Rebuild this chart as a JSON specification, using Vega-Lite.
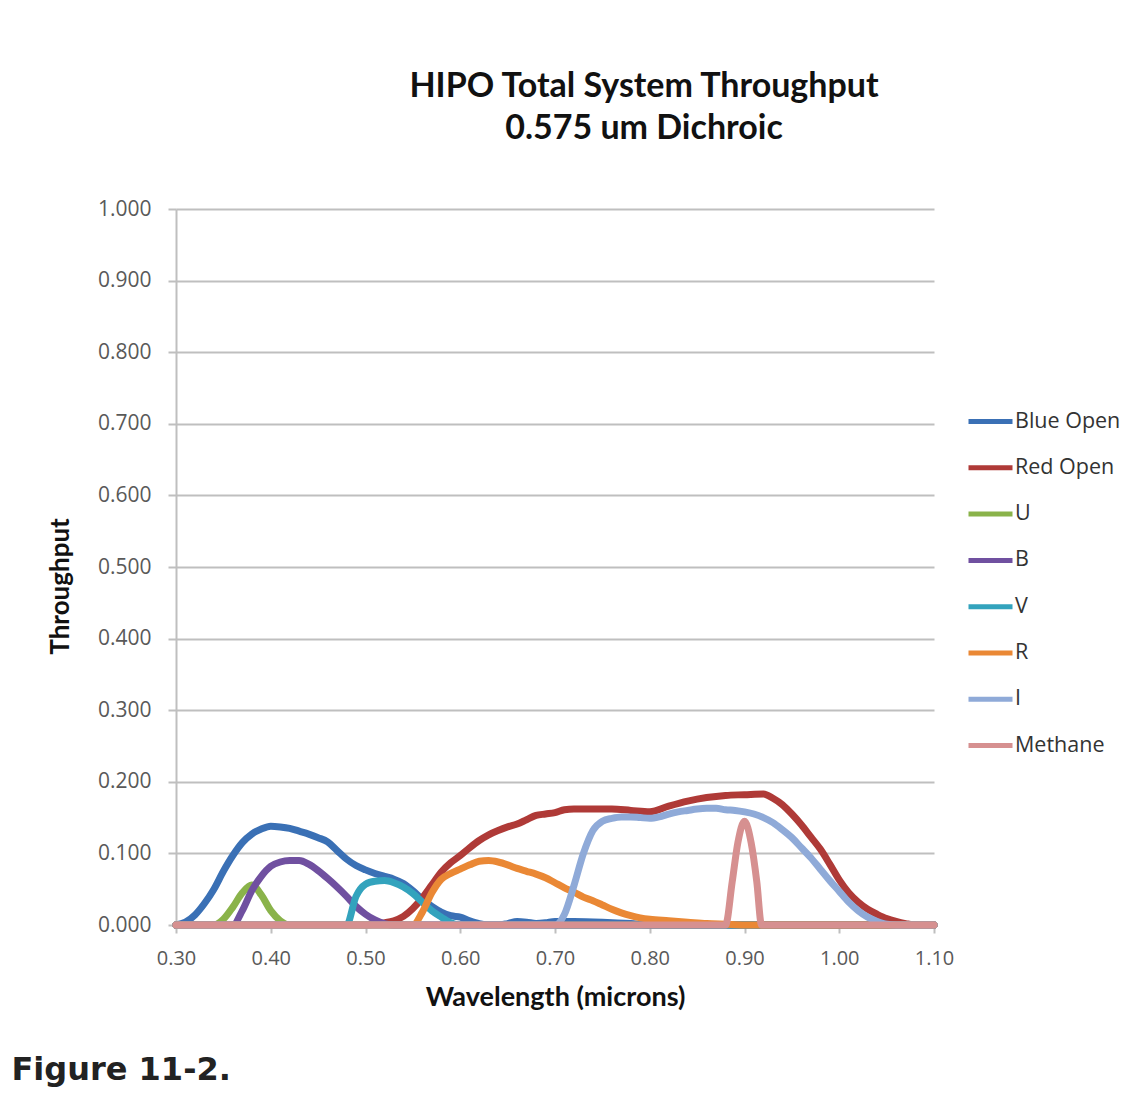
{
  "$schema": "https://vega.github.io/schema/vega-lite/v6.json",
  "padding": {"left": 11, "top": 70, "right": 5, "bottom": 5},
  "background": "white",
  "config": {"view": {"stroke": null}, "font": "Open Sans"},
  "title": {"text": "Figure 11-2.", "orient": "bottom", "anchor": "start", "font": "DejaVu Sans", "fontWeight": "bold", "fontSize": 32, "color": "#222222", "dx": -36, "offset": 45},
  "vconcat": [
    {
      "width": 758,
      "height": 716,
      "title": {"text": ["HIPO Total System Throughput", "0.575 um Dichroic"], "font": "Lato", "fontWeight": "bold", "fontSize": 34, "lineHeight": 42, "color": "#111111", "anchor": "middle", "frame": "group", "dx": 89, "offset": 52},
      "data": {"values": [
        {"series": "Blue Open", "wl": 0.30, "t": 0.000},
        {"series": "Blue Open", "wl": 0.31, "t": 0.004},
        {"series": "Blue Open", "wl": 0.32, "t": 0.014},
        {"series": "Blue Open", "wl": 0.33, "t": 0.030},
        {"series": "Blue Open", "wl": 0.34, "t": 0.050},
        {"series": "Blue Open", "wl": 0.35, "t": 0.075},
        {"series": "Blue Open", "wl": 0.36, "t": 0.097},
        {"series": "Blue Open", "wl": 0.37, "t": 0.115},
        {"series": "Blue Open", "wl": 0.38, "t": 0.127},
        {"series": "Blue Open", "wl": 0.39, "t": 0.134},
        {"series": "Blue Open", "wl": 0.40, "t": 0.138},
        {"series": "Blue Open", "wl": 0.41, "t": 0.137},
        {"series": "Blue Open", "wl": 0.42, "t": 0.135},
        {"series": "Blue Open", "wl": 0.43, "t": 0.131},
        {"series": "Blue Open", "wl": 0.44, "t": 0.127},
        {"series": "Blue Open", "wl": 0.45, "t": 0.122},
        {"series": "Blue Open", "wl": 0.46, "t": 0.116},
        {"series": "Blue Open", "wl": 0.47, "t": 0.104},
        {"series": "Blue Open", "wl": 0.48, "t": 0.092},
        {"series": "Blue Open", "wl": 0.49, "t": 0.083},
        {"series": "Blue Open", "wl": 0.50, "t": 0.077},
        {"series": "Blue Open", "wl": 0.51, "t": 0.072},
        {"series": "Blue Open", "wl": 0.52, "t": 0.068},
        {"series": "Blue Open", "wl": 0.53, "t": 0.064},
        {"series": "Blue Open", "wl": 0.54, "t": 0.058},
        {"series": "Blue Open", "wl": 0.55, "t": 0.048},
        {"series": "Blue Open", "wl": 0.56, "t": 0.036},
        {"series": "Blue Open", "wl": 0.57, "t": 0.026},
        {"series": "Blue Open", "wl": 0.58, "t": 0.018},
        {"series": "Blue Open", "wl": 0.59, "t": 0.013},
        {"series": "Blue Open", "wl": 0.60, "t": 0.011},
        {"series": "Blue Open", "wl": 0.61, "t": 0.006},
        {"series": "Blue Open", "wl": 0.62, "t": 0.002},
        {"series": "Blue Open", "wl": 0.63, "t": 0.000},
        {"series": "Blue Open", "wl": 0.64, "t": 0.000},
        {"series": "Blue Open", "wl": 0.65, "t": 0.002},
        {"series": "Blue Open", "wl": 0.66, "t": 0.005},
        {"series": "Blue Open", "wl": 0.67, "t": 0.004},
        {"series": "Blue Open", "wl": 0.68, "t": 0.002},
        {"series": "Blue Open", "wl": 0.69, "t": 0.003},
        {"series": "Blue Open", "wl": 0.70, "t": 0.005},
        {"series": "Blue Open", "wl": 0.72, "t": 0.005},
        {"series": "Blue Open", "wl": 0.75, "t": 0.004},
        {"series": "Blue Open", "wl": 0.78, "t": 0.002},
        {"series": "Blue Open", "wl": 0.80, "t": 0.000},
        {"series": "Blue Open", "wl": 1.10, "t": 0.000},
        {"series": "Red Open", "wl": 0.30, "t": 0.000},
        {"series": "Red Open", "wl": 0.50, "t": 0.000},
        {"series": "Red Open", "wl": 0.51, "t": 0.001},
        {"series": "Red Open", "wl": 0.52, "t": 0.003},
        {"series": "Red Open", "wl": 0.53, "t": 0.006},
        {"series": "Red Open", "wl": 0.54, "t": 0.012},
        {"series": "Red Open", "wl": 0.55, "t": 0.023},
        {"series": "Red Open", "wl": 0.56, "t": 0.038},
        {"series": "Red Open", "wl": 0.57, "t": 0.056},
        {"series": "Red Open", "wl": 0.58, "t": 0.074},
        {"series": "Red Open", "wl": 0.59, "t": 0.087},
        {"series": "Red Open", "wl": 0.60, "t": 0.097},
        {"series": "Red Open", "wl": 0.61, "t": 0.108},
        {"series": "Red Open", "wl": 0.62, "t": 0.118},
        {"series": "Red Open", "wl": 0.63, "t": 0.126},
        {"series": "Red Open", "wl": 0.64, "t": 0.132},
        {"series": "Red Open", "wl": 0.65, "t": 0.137},
        {"series": "Red Open", "wl": 0.66, "t": 0.141},
        {"series": "Red Open", "wl": 0.67, "t": 0.147},
        {"series": "Red Open", "wl": 0.68, "t": 0.153},
        {"series": "Red Open", "wl": 0.69, "t": 0.155},
        {"series": "Red Open", "wl": 0.70, "t": 0.157},
        {"series": "Red Open", "wl": 0.71, "t": 0.161},
        {"series": "Red Open", "wl": 0.72, "t": 0.162},
        {"series": "Red Open", "wl": 0.74, "t": 0.162},
        {"series": "Red Open", "wl": 0.76, "t": 0.162},
        {"series": "Red Open", "wl": 0.78, "t": 0.160},
        {"series": "Red Open", "wl": 0.80, "t": 0.158},
        {"series": "Red Open", "wl": 0.82, "t": 0.166},
        {"series": "Red Open", "wl": 0.84, "t": 0.173},
        {"series": "Red Open", "wl": 0.86, "t": 0.178},
        {"series": "Red Open", "wl": 0.88, "t": 0.181},
        {"series": "Red Open", "wl": 0.90, "t": 0.182},
        {"series": "Red Open", "wl": 0.92, "t": 0.183},
        {"series": "Red Open", "wl": 0.93, "t": 0.177},
        {"series": "Red Open", "wl": 0.94, "t": 0.168},
        {"series": "Red Open", "wl": 0.95, "t": 0.155},
        {"series": "Red Open", "wl": 0.96, "t": 0.140},
        {"series": "Red Open", "wl": 0.97, "t": 0.123},
        {"series": "Red Open", "wl": 0.98, "t": 0.106},
        {"series": "Red Open", "wl": 0.99, "t": 0.085},
        {"series": "Red Open", "wl": 1.00, "t": 0.063},
        {"series": "Red Open", "wl": 1.01, "t": 0.045},
        {"series": "Red Open", "wl": 1.02, "t": 0.032},
        {"series": "Red Open", "wl": 1.03, "t": 0.022},
        {"series": "Red Open", "wl": 1.04, "t": 0.015},
        {"series": "Red Open", "wl": 1.05, "t": 0.009},
        {"series": "Red Open", "wl": 1.06, "t": 0.005},
        {"series": "Red Open", "wl": 1.07, "t": 0.002},
        {"series": "Red Open", "wl": 1.08, "t": 0.000},
        {"series": "Red Open", "wl": 1.10, "t": 0.000},
        {"series": "U", "wl": 0.30, "t": 0.000},
        {"series": "U", "wl": 0.34, "t": 0.000},
        {"series": "U", "wl": 0.35, "t": 0.008},
        {"series": "U", "wl": 0.36, "t": 0.025},
        {"series": "U", "wl": 0.37, "t": 0.045},
        {"series": "U", "wl": 0.38, "t": 0.056},
        {"series": "U", "wl": 0.39, "t": 0.042},
        {"series": "U", "wl": 0.40, "t": 0.020},
        {"series": "U", "wl": 0.41, "t": 0.006},
        {"series": "U", "wl": 0.42, "t": 0.000},
        {"series": "U", "wl": 1.10, "t": 0.000},
        {"series": "B", "wl": 0.30, "t": 0.000},
        {"series": "B", "wl": 0.36, "t": 0.000},
        {"series": "B", "wl": 0.37, "t": 0.020},
        {"series": "B", "wl": 0.38, "t": 0.048},
        {"series": "B", "wl": 0.39, "t": 0.068},
        {"series": "B", "wl": 0.40, "t": 0.082},
        {"series": "B", "wl": 0.41, "t": 0.088},
        {"series": "B", "wl": 0.42, "t": 0.090},
        {"series": "B", "wl": 0.43, "t": 0.090},
        {"series": "B", "wl": 0.44, "t": 0.085},
        {"series": "B", "wl": 0.45, "t": 0.076},
        {"series": "B", "wl": 0.46, "t": 0.065},
        {"series": "B", "wl": 0.47, "t": 0.053},
        {"series": "B", "wl": 0.48, "t": 0.040},
        {"series": "B", "wl": 0.49, "t": 0.026},
        {"series": "B", "wl": 0.50, "t": 0.015},
        {"series": "B", "wl": 0.51, "t": 0.007},
        {"series": "B", "wl": 0.52, "t": 0.002},
        {"series": "B", "wl": 0.53, "t": 0.000},
        {"series": "B", "wl": 1.10, "t": 0.000},
        {"series": "V", "wl": 0.30, "t": 0.000},
        {"series": "V", "wl": 0.48, "t": 0.000},
        {"series": "V", "wl": 0.49, "t": 0.040},
        {"series": "V", "wl": 0.50, "t": 0.057},
        {"series": "V", "wl": 0.51, "t": 0.061},
        {"series": "V", "wl": 0.52, "t": 0.062},
        {"series": "V", "wl": 0.53, "t": 0.059},
        {"series": "V", "wl": 0.54, "t": 0.053},
        {"series": "V", "wl": 0.55, "t": 0.044},
        {"series": "V", "wl": 0.56, "t": 0.032},
        {"series": "V", "wl": 0.57, "t": 0.020},
        {"series": "V", "wl": 0.58, "t": 0.011},
        {"series": "V", "wl": 0.59, "t": 0.003},
        {"series": "V", "wl": 0.60, "t": 0.000},
        {"series": "V", "wl": 1.10, "t": 0.000},
        {"series": "R", "wl": 0.30, "t": 0.000},
        {"series": "R", "wl": 0.55, "t": 0.000},
        {"series": "R", "wl": 0.56, "t": 0.018},
        {"series": "R", "wl": 0.57, "t": 0.045},
        {"series": "R", "wl": 0.58, "t": 0.064},
        {"series": "R", "wl": 0.59, "t": 0.072},
        {"series": "R", "wl": 0.60, "t": 0.078},
        {"series": "R", "wl": 0.61, "t": 0.084},
        {"series": "R", "wl": 0.62, "t": 0.089},
        {"series": "R", "wl": 0.63, "t": 0.090},
        {"series": "R", "wl": 0.64, "t": 0.088},
        {"series": "R", "wl": 0.65, "t": 0.084},
        {"series": "R", "wl": 0.66, "t": 0.079},
        {"series": "R", "wl": 0.67, "t": 0.075},
        {"series": "R", "wl": 0.68, "t": 0.071},
        {"series": "R", "wl": 0.69, "t": 0.066},
        {"series": "R", "wl": 0.70, "t": 0.059},
        {"series": "R", "wl": 0.71, "t": 0.052},
        {"series": "R", "wl": 0.72, "t": 0.046},
        {"series": "R", "wl": 0.73, "t": 0.039},
        {"series": "R", "wl": 0.74, "t": 0.034},
        {"series": "R", "wl": 0.75, "t": 0.028},
        {"series": "R", "wl": 0.76, "t": 0.022},
        {"series": "R", "wl": 0.77, "t": 0.017},
        {"series": "R", "wl": 0.78, "t": 0.013},
        {"series": "R", "wl": 0.79, "t": 0.010},
        {"series": "R", "wl": 0.80, "t": 0.008},
        {"series": "R", "wl": 0.82, "t": 0.006},
        {"series": "R", "wl": 0.84, "t": 0.004},
        {"series": "R", "wl": 0.86, "t": 0.002},
        {"series": "R", "wl": 0.88, "t": 0.001},
        {"series": "R", "wl": 0.90, "t": 0.000},
        {"series": "R", "wl": 1.10, "t": 0.000},
        {"series": "I", "wl": 0.30, "t": 0.000},
        {"series": "I", "wl": 0.70, "t": 0.000},
        {"series": "I", "wl": 0.71, "t": 0.015},
        {"series": "I", "wl": 0.72, "t": 0.055},
        {"series": "I", "wl": 0.73, "t": 0.100},
        {"series": "I", "wl": 0.74, "t": 0.132},
        {"series": "I", "wl": 0.75, "t": 0.145},
        {"series": "I", "wl": 0.76, "t": 0.149},
        {"series": "I", "wl": 0.77, "t": 0.151},
        {"series": "I", "wl": 0.78, "t": 0.151},
        {"series": "I", "wl": 0.79, "t": 0.150},
        {"series": "I", "wl": 0.80, "t": 0.149},
        {"series": "I", "wl": 0.81, "t": 0.151},
        {"series": "I", "wl": 0.82, "t": 0.155},
        {"series": "I", "wl": 0.83, "t": 0.158},
        {"series": "I", "wl": 0.84, "t": 0.160},
        {"series": "I", "wl": 0.85, "t": 0.162},
        {"series": "I", "wl": 0.86, "t": 0.163},
        {"series": "I", "wl": 0.87, "t": 0.163},
        {"series": "I", "wl": 0.88, "t": 0.161},
        {"series": "I", "wl": 0.89, "t": 0.160},
        {"series": "I", "wl": 0.90, "t": 0.158},
        {"series": "I", "wl": 0.91, "t": 0.155},
        {"series": "I", "wl": 0.92, "t": 0.150},
        {"series": "I", "wl": 0.93, "t": 0.143},
        {"series": "I", "wl": 0.94, "t": 0.133},
        {"series": "I", "wl": 0.95, "t": 0.122},
        {"series": "I", "wl": 0.96, "t": 0.108},
        {"series": "I", "wl": 0.97, "t": 0.094},
        {"series": "I", "wl": 0.98, "t": 0.078},
        {"series": "I", "wl": 0.99, "t": 0.062},
        {"series": "I", "wl": 1.00, "t": 0.047},
        {"series": "I", "wl": 1.01, "t": 0.032},
        {"series": "I", "wl": 1.02, "t": 0.020},
        {"series": "I", "wl": 1.03, "t": 0.011},
        {"series": "I", "wl": 1.04, "t": 0.005},
        {"series": "I", "wl": 1.05, "t": 0.001},
        {"series": "I", "wl": 1.06, "t": 0.000},
        {"series": "I", "wl": 1.10, "t": 0.000},
        {"series": "Methane", "wl": 0.30, "t": 0.000},
        {"series": "Methane", "wl": 0.880, "t": 0.000},
        {"series": "Methane", "wl": 0.887, "t": 0.060},
        {"series": "Methane", "wl": 0.893, "t": 0.115},
        {"series": "Methane", "wl": 0.900, "t": 0.145},
        {"series": "Methane", "wl": 0.907, "t": 0.115},
        {"series": "Methane", "wl": 0.913, "t": 0.060},
        {"series": "Methane", "wl": 0.918, "t": 0.000},
        {"series": "Methane", "wl": 1.10, "t": 0.000}
      ]},
      "mark": {"type": "line", "interpolate": "monotone", "strokeWidth": 7, "strokeCap": "round", "strokeJoin": "round"},
      "encoding": {
        "x": {
          "field": "wl", "type": "quantitative",
          "scale": {"domain": [0.3, 1.1], "nice": false, "zero": false},
          "axis": {
            "values": [0.3, 0.4, 0.5, 0.6, 0.7, 0.8, 0.9, 1.0, 1.1],
            "format": ".2f", "grid": false, "labelFlush": false,
            "title": "Wavelength (microns)", "titleFont": "Lato", "titleFontWeight": "bold", "titleFontSize": 27, "titleColor": "#111111", "titlePadding": 16,
            "labelFont": "Open Sans", "labelFontSize": 20, "labelColor": "#595959", "labelPadding": 15,
            "tickSize": 8, "tickColor": "#BFBFBF", "tickWidth": 2, "domainColor": "#BFBFBF", "domainWidth": 2
          }
        },
        "y": {
          "field": "t", "type": "quantitative",
          "scale": {"domain": [0, 1], "nice": false},
          "axis": {
            "values": [0, 0.1, 0.2, 0.3, 0.4, 0.5, 0.6, 0.7, 0.8, 0.9, 1.0],
            "format": ".3f", "grid": true, "gridColor": "#BFBFBF", "gridWidth": 2, "labelFlush": false,
            "title": "Throughput", "titleFont": "Lato", "titleFontWeight": "bold", "titleFontSize": 26, "titleColor": "#111111", "titlePadding": 24, "titleY": 377,
            "labelFont": "Open Sans", "labelFontSize": 21, "labelColor": "#595959", "labelPadding": 17,
            "tickSize": 8, "tickColor": "#BFBFBF", "tickWidth": 2, "domainColor": "#BFBFBF", "domainWidth": 2
          }
        },
        "color": {
          "field": "series", "type": "nominal",
          "scale": {
            "domain": ["Blue Open", "Red Open", "U", "B", "V", "R", "I", "Methane"],
            "range": ["#3A70B5", "#AF3A37", "#8AB34A", "#7050A0", "#33A3BD", "#EA8835", "#8FAAD8", "#D69090"]
          },
          "legend": {
            "title": null, "orient": "none", "legendX": 790, "legendY": 188,
            "symbolType": "stroke", "symbolSize": 1936, "symbolStrokeWidth": 5,
            "labelFont": "Open Sans", "labelFontSize": 21.5, "labelColor": "#333333", "labelOffset": 0, "rowPadding": 11.3
          }
        }
      }
    }
  ]
}
